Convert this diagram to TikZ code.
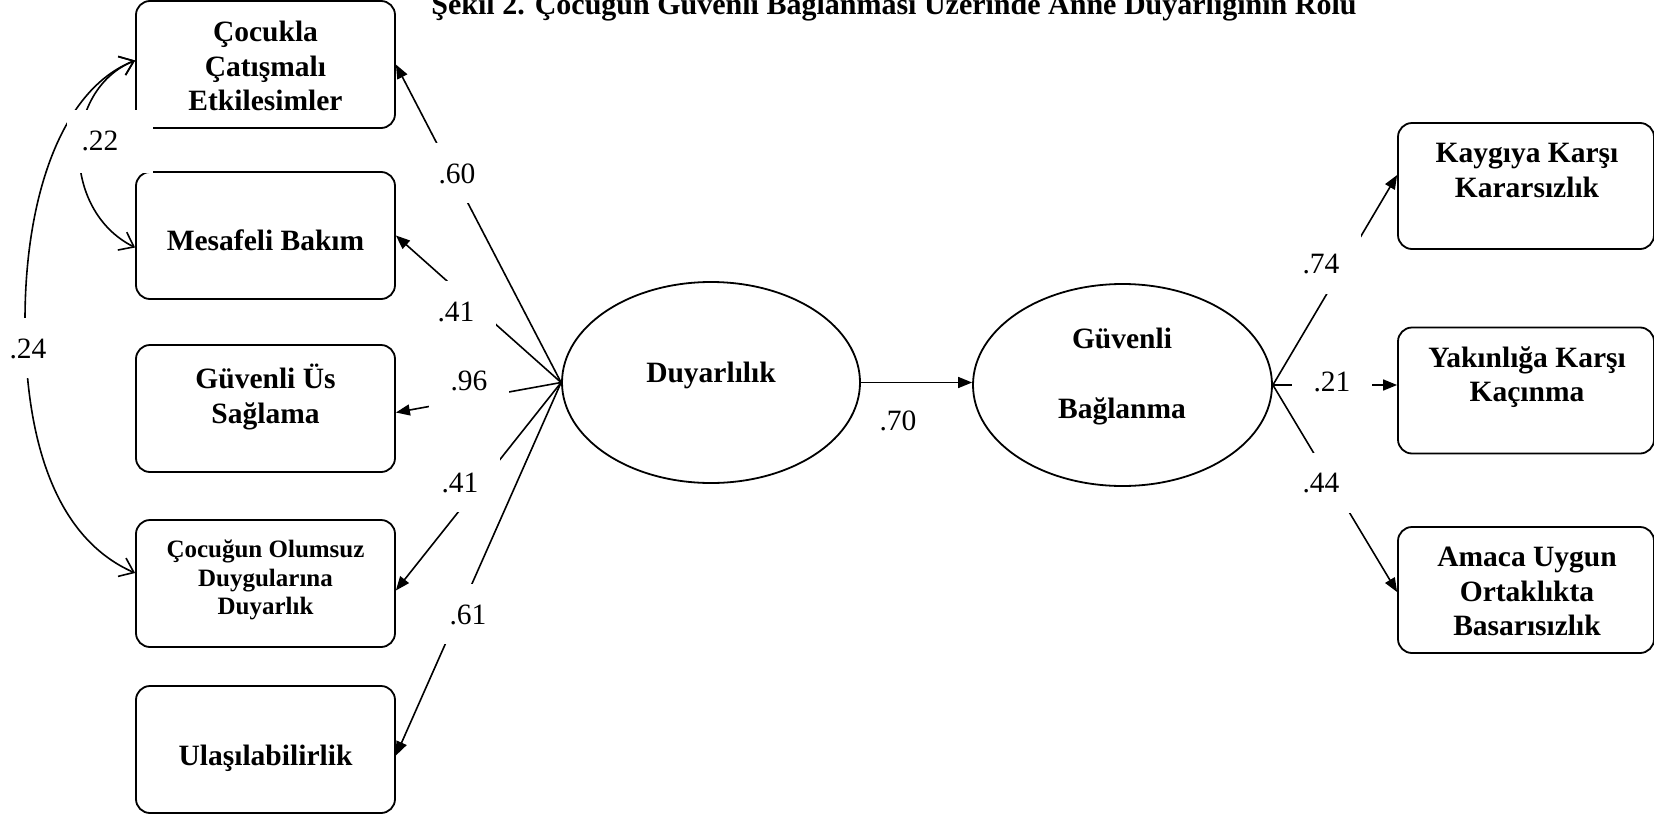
\documentclass[tikz,border=0pt]{standalone}
\usepackage{fontspec}
\setmainfont{Liberation Serif}
\usetikzlibrary{arrows.meta,shapes.geometric,calc}
\begin{document}
\begin{tikzpicture}[x=1pt,y=-1pt,
  box/.style={draw, rounded corners=14pt, minimum width=259pt, minimum height=127pt, line width=1.8pt, inner sep=0pt},
  rbox/.style={box, minimum width=256pt, minimum height=126pt},
  lat/.style={draw, ellipse, line width=1.8pt, inner sep=0pt},
  txt/.style={font=\fontsize{29.5}{34.5}\selectfont\bfseries, align=center, inner sep=0pt,
    execute at begin node=\strut, execute at end node=\strut},
  stxt/.style={txt, font=\fontsize{25}{28.5}\selectfont\bfseries},
  numt/.style={font=\fontsize{29.5}{34}\selectfont, inner sep=0pt, anchor=base},
  num/.style={numt, fill=white, minimum width=80pt, minimum height=60pt},
  mask/.style={fill=white, inner sep=0pt},
  load/.style={line width=1.6pt, -{Triangle[length=14pt,width=11pt]}},
  cov/.style={line width=1.6pt, {Straight Barb[length=13pt,width=20pt]}-{Straight Barb[length=13pt,width=20pt]}}
]
\useasboundingbox (0,0) rectangle (1654,819);

% title
\node[font=\fontsize{30}{34}\selectfont\bfseries, anchor=base, inner sep=0pt] (title) at (894,14)
  {Şekil 2. Çocuğun Güvenli Bağlanması Üzerinde Anne Duyarlığının Rolü};

% left boxes
\node[box] (b1) at (265.5,64.5) {};
\node[box] (b2) at (265.5,235.5) {};
\node[box] (b3) at (265.5,408.5) {};
\node[box] (b4) at (265.5,583.5) {};
\node[box] (b5) at (265.5,749.5) {};
% right boxes
\node[rbox] (r1) at (1526,186) {};
\node[rbox] (r2) at (1526,390.5) {};
\node[rbox] (r3) at (1526,590) {};
% latent variables
\node[lat, minimum width=298pt, minimum height=201pt] (D) at (711,382.5) {};
\node[lat, minimum width=299pt, minimum height=202pt] (G) at (1122.5,385) {};

% covariances
\draw[cov] ($(b1.west)+(0,-4)$) .. controls (62,90) and (60,210) .. ($(b2.west)+(0,12)$);
\draw[cov] ($(b1.west)+(0,-4)$) .. controls (60,90) and (25,200) .. (25,320)
  .. controls (25,450) and (60,540) .. ($(b4.west)+(0,-10.5)$);

% loadings
\draw[load] (D.west) -- (b1.east);
\draw[load] (D.west) -- (b2.east);
\draw[load] (D.west) -- ($(b3.east)+(0,4)$);
\draw[load] (D.west) -- ($(b4.east)+(0,7)$);
\draw[load] (D.west) -- ($(b5.east)+(0,6)$);
\draw[load] (D.east) -- (D.east -| G.west);
\draw[load] (G.east) -- ($(r1.west)+(0,-11)$);
\draw[load] (G.east) -- (G.east -| r2.west);
\draw[load] (G.east) -- ($(r3.west)+(0,2)$);

% coefficient labels
\node[mask, minimum width=86pt, minimum height=63pt] (m22) at (110,141.5) {};
\node[numt] (l22) at (100,150) {.22};
\node[num] (l24) at (28,358) {.24};
\node[num] (l60) at (457,183) {.60};
\node[num] (l41a) at (456,321) {.41};
\node[num] (l96) at (469,390) {.96};
\node[num] (l41b) at (460,492) {.41};
\node[num] (l61) at (468,624) {.61};
\node[numt] (l70) at (898,430) {.70};
\node[num] (l74) at (1321,273) {.74};
\node[num, minimum height=40pt] (l21) at (1332,391) {.21};
\node[num] (l44) at (1321,492) {.44};

% box texts
\node[txt] (t1) at (265.5,71.2) {Çocukla\\Çatışmalı\\Etkilesimler};
\node[txt] (t2) at (265.5,243.2) {Mesafeli Bakım};
\node[txt] (t3) at (265.5,398.7) {Güvenli Üs\\Sağlama};
\node[stxt] (t4) at (265.5,581.9) {Çocuğun Olumsuz\\Duygularına\\Duyarlık};
\node[txt] (t5) at (265.5,758.2) {Ulaşılabilirlik};
\node[txt] (tr1) at (1527,175.7) {Kaygıya Karşı\\Kararsızlık};
\node[txt] (tr2) at (1527,379.2) {Yakınlığa Karşı\\Kaçınma};
\node[txt] (tr3) at (1527,596.7) {Amaca Uygun\\Ortaklıkta\\Basarısızlık};
\node[txt] (tD) at (711,375.2) {Duyarlılık};
\node[txt] (tG) at (1122,378.2) {Güvenli\\[35.5pt]Bağlanma};
\end{tikzpicture}
\end{document}
